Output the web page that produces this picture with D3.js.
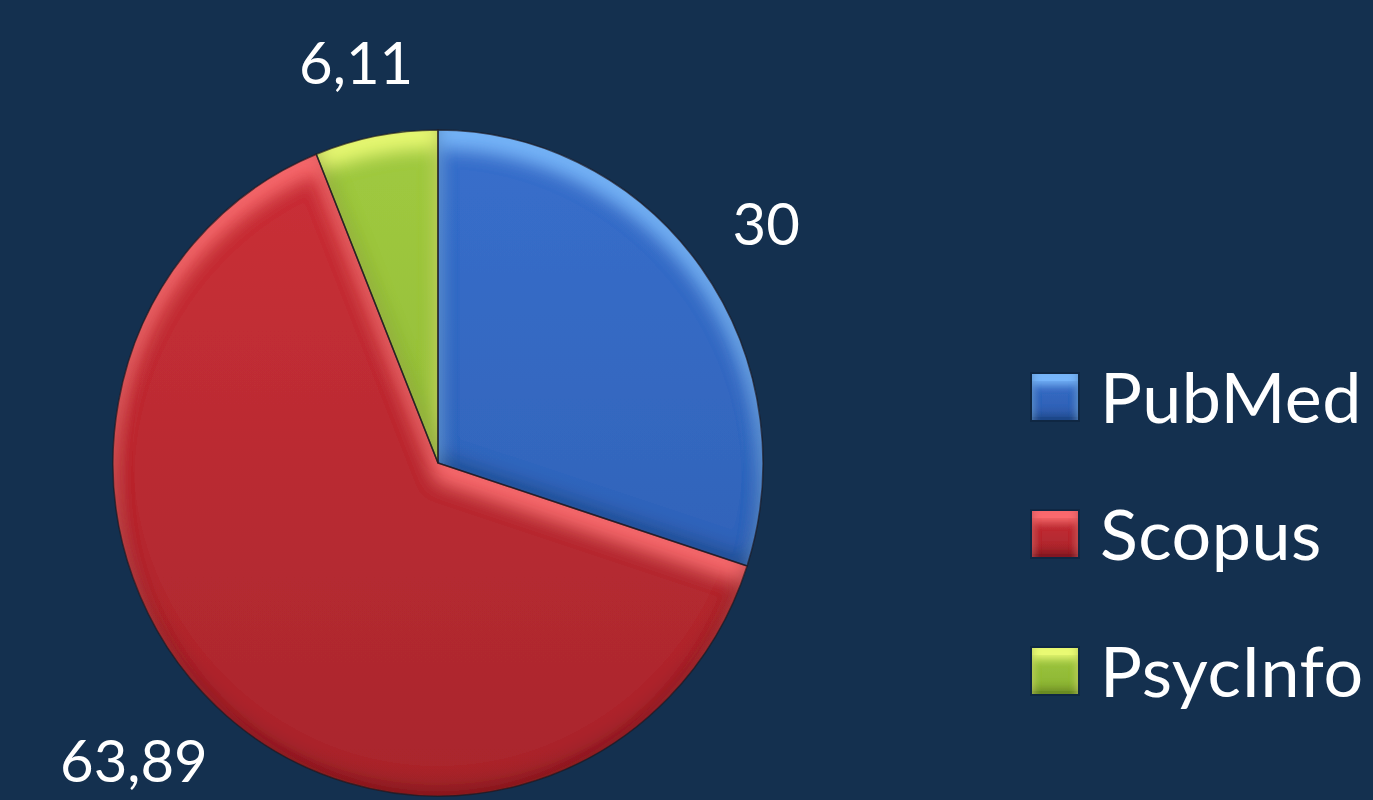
<!DOCTYPE html>
<html><head><meta charset="utf-8">
<script src="https://cdn.jsdelivr.net/npm/d3@7"></script>
<style>html,body{margin:0;padding:0;background:#14304f;}svg{display:block;}</style>
</head><body>
<svg id="chart" width="1373" height="800"></svg>
<script>
const categories = ["PubMed", "Scopus", "PsycInfo"];
const values = [30, 63.89, 6.11];
const valueLabels = ["30", "63,89", "6,11"];
const lightColors = ["#386fcc", "#cc3038", "#a0ca40"];
const darkColors = ["#2e5daf", "#a8262c", "#8ab233"];
const highlightColors = ["#7cbcff", "#ff6f72", "#f0ff78"];
const shadowColors = ["#0c1a33", "#2a0a0e", "#1e2a0a"];

const W = 1373, H = 800;
const svg = d3.select("#chart");
svg.append("rect").attr("width", W).attr("height", H).attr("fill", "#14304f");

const defs = svg.append("defs");
function bevel(id, blur, off, hiColor, hiOp, shColor, shOp) {
  const f = defs.append("filter").attr("id", id)
    .attr("x", "-5%").attr("y", "-5%").attr("width", "110%").attr("height", "110%");
  f.append("feGaussianBlur").attr("in", "SourceAlpha").attr("stdDeviation", blur).attr("result", "b");
  f.append("feOffset").attr("in", "b").attr("dx", 0).attr("dy", off).attr("result", "bDown");
  f.append("feOffset").attr("in", "b").attr("dx", 0).attr("dy", -off * 0.6).attr("result", "bUp");
  f.append("feComposite").attr("in", "SourceAlpha").attr("in2", "bDown").attr("operator", "out").attr("result", "hiMask");
  f.append("feComposite").attr("in", "SourceAlpha").attr("in2", "bUp").attr("operator", "out").attr("result", "shMask");
  f.append("feFlood").attr("flood-color", hiColor).attr("flood-opacity", hiOp).attr("result", "w");
  f.append("feComposite").attr("in", "w").attr("in2", "hiMask").attr("operator", "in").attr("result", "hi");
  f.append("feFlood").attr("flood-color", shColor).attr("flood-opacity", shOp).attr("result", "k");
  f.append("feComposite").attr("in", "k").attr("in2", "shMask").attr("operator", "in").attr("result", "sh");
  const m = f.append("feMerge");
  m.append("feMergeNode").attr("in", "SourceGraphic");
  m.append("feMergeNode").attr("in", "hi");
  m.append("feMergeNode").attr("in", "sh");
}
categories.forEach((c, i) => {
  bevel("bevelPie" + i, 9, 17, highlightColors[i], 0.9, shadowColors[i], 0.45);
  bevel("bevelKey" + i, 4, 10, highlightColors[i], 0.9, shadowColors[i], 0.45);
  const g = defs.append("linearGradient").attr("id", "grad" + i)
    .attr("gradientUnits", "userSpaceOnUse")
    .attr("x1", 0).attr("y1", -330).attr("x2", 0).attr("y2", 330);
  g.append("stop").attr("offset", "0%").attr("stop-color", lightColors[i]);
  g.append("stop").attr("offset", "100%").attr("stop-color", darkColors[i]);
  const gk = defs.append("linearGradient").attr("id", "gradKey" + i)
    .attr("x1", 0).attr("y1", 0).attr("x2", 0).attr("y2", 1);
  gk.append("stop").attr("offset", "0%").attr("stop-color", lightColors[i]);
  gk.append("stop").attr("offset", "100%").attr("stop-color", darkColors[i]);
});

const cx = 438, cy = 463, r = 325, yScale = 333 / 325;
const pie = d3.pie().sort(null).value(d => d)(values);
const arc = d3.arc().innerRadius(0).outerRadius(r);

const gPie = svg.append("g").attr("transform", `translate(${cx},${cy}) scale(1,${yScale})`);
gPie.selectAll("path.slice").data(pie).join("path")
  .attr("class", "slice")
  .attr("d", arc)
  .attr("fill", (d, i) => `url(#grad${i})`)
  .attr("filter", (d, i) => `url(#bevelPie${i})`);
gPie.selectAll("path.edge").data(pie).join("path")
  .attr("class", "edge")
  .attr("d", arc)
  .attr("fill", "none")
  .attr("stroke", "#1c1a22")
  .attr("stroke-opacity", 0.7)
  .attr("stroke-width", 1.5);

// data labels (outside end, box touching the label radius)
const fontSize = 58, labelR = 366, boxH = 64, padW = 6, capH = 42;
pie.forEach((d, i) => {
  const a = (d.startAngle + d.endAngle) / 2;
  const t = svg.append("text").text(valueLabels[i])
    .attr("font-family", "Lato, 'Open Sans', sans-serif")
    .attr("font-size", fontSize).attr("fill", "#ffffff")
    .attr("text-anchor", "middle");
  const w = t.node().getComputedTextLength() + padW * 2;
  const x = cx + Math.sin(a) * (labelR + w / 2);
  const yc = cy - Math.cos(a) * (labelR * yScale + boxH / 2);
  t.attr("x", x).attr("y", yc + capH / 2);
});

// legend
const legend = svg.append("g").attr("transform", "translate(1032,374)");
const item = legend.selectAll("g").data(categories).join("g")
  .attr("transform", (d, i) => `translate(0,${i * 137})`);
item.append("rect").attr("x", -2).attr("y", -2).attr("width", 50).attr("height", 50)
  .attr("fill", "#0e2540").attr("opacity", 0.8);
item.append("rect").attr("width", 46).attr("height", 46)
  .attr("fill", (d, i) => `url(#gradKey${i})`)
  .attr("filter", (d, i) => `url(#bevelKey${i})`);
item.append("text").text(d => d)
  .attr("x", 68).attr("y", 49)
  .attr("font-family", "Lato, 'Open Sans', sans-serif")
  .attr("font-size", 70).attr("letter-spacing", 0.5).attr("fill", "#ffffff");
</script>
</body></html>
